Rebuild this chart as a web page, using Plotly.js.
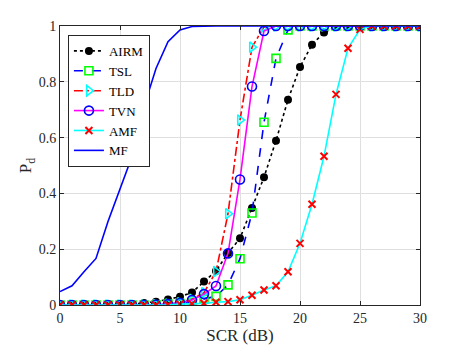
<!DOCTYPE html>
<html>
<head>
<meta charset="utf-8">
<script src="https://cdn.plot.ly/plotly-3.0.1.min.js"></script>
<style>html,body{margin:0;padding:0;background:#fff;}#chart{width:464px;height:353px;}</style>
</head>
<body>
<div id="chart"></div>
<script>
const scr = [0,1,2,3,4,5,6,7,8,9,10,11,12,13,14,15,16,17,18,19,20,21,22,23,24,25,26,27,28,29,30];
const airm = [0,0,0,0,0,0.001,0.003,0.007,0.012,0.02,0.03,0.045,0.084,0.122,0.186,0.239,0.348,0.458,0.589,0.736,0.853,0.933,0.977,0.997,1,1,1,1,1,1,1];
const tsl  = [0,0,0,0,0,0,0,0,0.001,0.003,0.005,0.01,0.022,0.031,0.072,0.166,0.33,0.655,0.884,0.986,1,1,1,1,1,1,1,1,1,1,1];
const tld  = [0,0,0,0,0,0,0,0,0.001,0.003,0.008,0.02,0.044,0.12,0.327,0.663,0.924,0.997,1,1,1,1,1,1,1,1,1,1,1,1,1];
const tvn  = [0,0,0,0,0,0,0,0,0.001,0.003,0.007,0.018,0.039,0.068,0.185,0.45,0.783,0.982,1,1,1,1,1,1,1,1,1,1,1,1,1];
const amf  = [0,0,0,0,0,0,0,0,0,0.001,0.003,0.004,0.006,0.01,0.012,0.019,0.035,0.054,0.069,0.119,0.221,0.361,0.533,0.755,0.92,0.988,1,1,1,1,1];
const mf   = [0.048,0.069,0.119,0.167,0.299,0.418,0.532,0.711,0.848,0.944,0.986,0.998,1,1,1,1,1,1,1,1,1,1,1,1,1,1,1,1,1,1,1];

const W = 1.6;
const SERIF = 'Times New Roman';
const traces = [
  {name:'AIRM', x:scr, y:airm, mode:'lines+markers',
   line:{color:'#000000', width:W, dash:'dot'},
   marker:{symbol:'circle', size:8, color:'#000000'}},
  {name:'TSL', x:scr, y:tsl, mode:'lines+markers',
   line:{color:'#0000ff', width:W, dash:'dash'},
   marker:{symbol:'square-open', size:8, color:'#00ff00', line:{width:1.6, color:'#00ff00'}}},
  {name:'TLD', x:scr, y:tld, mode:'lines+markers',
   line:{color:'#ff0000', width:W, dash:'dashdot'},
   marker:{symbol:'triangle-right-open', size:9, color:'#00ffff', line:{width:1.6, color:'#00ffff'}}},
  {name:'TVN', x:scr, y:tvn, mode:'lines+markers',
   line:{color:'#ff00ff', width:W},
   marker:{symbol:'circle-open', size:9, color:'#0000ff', line:{width:1.6, color:'#0000ff'}}},
  {name:'AMF', x:scr, y:amf, mode:'lines+markers',
   line:{color:'#00ffff', width:W},
   marker:{symbol:'x-thin-open', size:7, color:'#ff0000', line:{width:2, color:'#ff0000'}}},
  {name:'MF', x:scr, y:mf, mode:'lines',
   line:{color:'#0000ff', width:W}}
];

const axFont = {family:SERIF, size:14, color:'#262626'};
const layout = {
  width:464, height:353,
  margin:{l:60, r:44, t:26, b:48},
  paper_bgcolor:'#ffffff', plot_bgcolor:'#ffffff',
  font:axFont,
  showlegend:true,
  legend:{x:0.022, y:0.968, xanchor:'left', yanchor:'top',
    bgcolor:'#ffffff', bordercolor:'#262626', borderwidth:1,
    font:{family:SERIF, size:13, color:'#000000'},
    tracegroupgap:0, itemwidth:30},
  xaxis:{range:[0,30], dtick:5, tick0:0, ticks:'inside', ticklen:4, tickcolor:'#262626',
    showline:true, mirror:'ticks', linecolor:'#262626', linewidth:1,
    showgrid:true, gridcolor:'#dfdfdf', zeroline:false, tickfont:axFont,
    title:{text:'SCR (dB)', font:{family:SERIF, size:17, color:'#262626'}, standoff:4}},
  yaxis:{range:[0,1], dtick:0.2, tick0:0, ticks:'inside', ticklen:4, tickcolor:'#262626',
    showline:true, mirror:'ticks', linecolor:'#262626', linewidth:1,
    showgrid:true, gridcolor:'#dfdfdf', zeroline:false, tickfont:axFont,
    tickvals:[0,0.2,0.4,0.6,0.8,1], ticktext:['0','0.2','0.4','0.6','0.8','1'],
    title:{text:'P<sub>d</sub>', font:{family:SERIF, size:17, color:'#262626'}, standoff:2}}
};
Plotly.newPlot('chart', traces, layout, {staticPlot:true, displayModeBar:false});
</script>
</body>
</html>
